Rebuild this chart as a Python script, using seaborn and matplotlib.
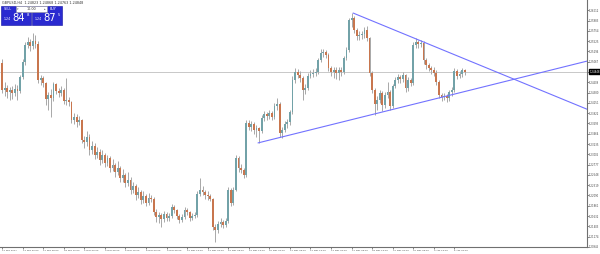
import matplotlib
matplotlib.use("Agg")
import matplotlib.pyplot as plt
from matplotlib.patches import Rectangle
import numpy as np
import pandas as pd
import seaborn as sns

# ---------------- data (prices in pips, /10000 -> price) ----------------
symbol_header = "GBPUSD,H4  1.24823 1.24868 1.24763 1.24848"

open_pips = [12504, 12444, 12448, 12439, 12444, 12437, 12446, 12442, 12473, 12506,
             12544, 12550, 12542, 12553, 12546, 12466, 12470, 12459, 12424, 12433,
             12426, 12457, 12442, 12437, 12444, 12419, 12422, 12417, 12377, 12384,
             12373, 12377, 12333, 12328, 12339, 12310, 12319, 12299, 12306, 12288,
             12299, 12281, 12292, 12270, 12277, 12261, 12270, 12248, 12255, 12237,
             12244, 12221, 12230, 12210, 12217, 12199, 12208, 12192, 12203, 12201,
             12172, 12161, 12166, 12157, 12168, 12159, 12163, 12183, 12177, 12163,
             12155, 12161, 12177, 12172, 12159, 12163, 12166, 12212, 12221, 12217,
             12210, 12208, 12201, 12139, 12132, 12146, 12150, 12143, 12152, 12221,
             12192, 12221, 12292, 12270, 12266, 12255, 12370, 12361, 12368, 12355,
             12359, 12353, 12381, 12390, 12386, 12393, 12384, 12408, 12413, 12348,
             12355, 12368, 12373, 12395, 12466, 12484, 12477, 12470, 12444, 12448,
             12475, 12479, 12482, 12484, 12510, 12526, 12528, 12522, 12493, 12484,
             12488, 12482, 12488, 12484, 12515, 12533, 12599, 12604, 12577, 12564,
             12566, 12568, 12577, 12559, 12482, 12444, 12413, 12422, 12437, 12410,
             12433, 12439, 12408, 12453, 12466, 12473, 12468, 12477, 12448, 12466,
             12459, 12544, 12550, 12546, 12548, 12510, 12499, 12493, 12488, 12482,
             12462, 12433, 12428, 12430, 12426, 12439, 12444, 12486, 12475, 12479,
             12488]

close_pips = [12444, 12448, 12439, 12444, 12437, 12446, 12442, 12473, 12506, 12544,
              12550, 12542, 12553, 12546, 12466, 12470, 12459, 12424, 12433, 12426,
              12457, 12442, 12437, 12444, 12419, 12422, 12417, 12377, 12384, 12373,
              12377, 12333, 12328, 12339, 12310, 12319, 12299, 12306, 12288, 12299,
              12281, 12292, 12270, 12277, 12261, 12270, 12248, 12255, 12237, 12244,
              12221, 12230, 12210, 12217, 12199, 12208, 12192, 12203, 12201, 12172,
              12161, 12166, 12157, 12168, 12159, 12163, 12183, 12177, 12163, 12155,
              12161, 12177, 12172, 12159, 12163, 12166, 12212, 12221, 12217, 12210,
              12208, 12201, 12139, 12132, 12146, 12150, 12143, 12152, 12221, 12192,
              12221, 12292, 12270, 12266, 12255, 12370, 12361, 12368, 12355, 12359,
              12353, 12381, 12390, 12386, 12393, 12384, 12408, 12413, 12348, 12355,
              12368, 12373, 12395, 12466, 12484, 12477, 12470, 12444, 12448, 12475,
              12479, 12482, 12484, 12510, 12526, 12528, 12522, 12493, 12484, 12488,
              12482, 12488, 12484, 12515, 12533, 12599, 12604, 12577, 12564, 12566,
              12568, 12577, 12559, 12482, 12444, 12413, 12422, 12437, 12410, 12433,
              12439, 12408, 12453, 12466, 12473, 12468, 12477, 12448, 12466, 12459,
              12544, 12550, 12546, 12548, 12510, 12499, 12493, 12488, 12482, 12462,
              12433, 12428, 12430, 12426, 12439, 12444, 12486, 12475, 12479, 12488,
              12484]

high_pips = [12512, 12462, 12455, 12450, 12452, 12458, 12455, 12478, 12512, 12550,
             12562, 12558, 12570, 12566, 12552, 12478, 12475, 12462, 12440, 12445,
             12462, 12460, 12448, 12452, 12448, 12470, 12428, 12420, 12392, 12390,
             12385, 12380, 12342, 12352, 12345, 12330, 12325, 12318, 12312, 12310,
             12304, 12300, 12296, 12290, 12282, 12285, 12275, 12268, 12260, 12262,
             12250, 12240, 12235, 12228, 12222, 12220, 12212, 12215, 12210, 12205,
             12178, 12172, 12170, 12175, 12172, 12170, 12190, 12188, 12180, 12168,
             12168, 12183, 12182, 12175, 12170, 12172, 12218, 12248, 12230, 12222,
             12218, 12212, 12204, 12145, 12152, 12158, 12155, 12158, 12228, 12225,
             12228, 12300, 12296, 12278, 12270, 12376, 12378, 12375, 12372, 12365,
             12362, 12388, 12398, 12395, 12400, 12396, 12415, 12425, 12416, 12362,
             12375, 12380, 12400, 12474, 12492, 12490, 12486, 12474, 12458, 12482,
             12488, 12490, 12492, 12516, 12534, 12536, 12533, 12525, 12498, 12496,
             12494, 12495, 12494, 12520, 12540, 12604, 12615, 12608, 12582, 12575,
             12576, 12585, 12586, 12562, 12486, 12448, 12430, 12444, 12442, 12440,
             12462, 12444, 12458, 12472, 12480, 12478, 12484, 12480, 12472, 12470,
             12550, 12559, 12556, 12555, 12552, 12515, 12504, 12498, 12494, 12488,
             12466, 12438, 12436, 12435, 12444, 12450, 12492, 12490, 12486, 12492,
             12490]

low_pips = [12436, 12430, 12425, 12422, 12424, 12430, 12422, 12438, 12468, 12500,
            12538, 12530, 12536, 12538, 12460, 12455, 12450, 12410, 12400, 12384,
            12420, 12435, 12428, 12430, 12412, 12410, 12408, 12370, 12368, 12362,
            12365, 12325, 12315, 12320, 12300, 12302, 12290, 12292, 12276, 12282,
            12272, 12275, 12262, 12264, 12250, 12255, 12240, 12240, 12228, 12230,
            12212, 12215, 12200, 12204, 12190, 12192, 12185, 12188, 12194, 12165,
            12150, 12148, 12140, 12150, 12152, 12152, 12158, 12170, 12156, 12148,
            12150, 12156, 12165, 12152, 12154, 12158, 12162, 12208, 12210, 12202,
            12200, 12196, 12132, 12106, 12125, 12140, 12136, 12138, 12148, 12185,
            12188, 12218, 12262, 12258, 12248, 12250, 12355, 12352, 12345, 12340,
            12326, 12348, 12375, 12378, 12380, 12376, 12380, 12400, 12340, 12338,
            12350, 12360, 12366, 12390, 12460, 12470, 12462, 12422, 12435, 12444,
            12470, 12472, 12475, 12480, 12505, 12518, 12515, 12486, 12474, 12470,
            12468, 12466, 12476, 12480, 12510, 12528, 12585, 12570, 12555, 12556,
            12558, 12560, 12552, 12475, 12436, 12388, 12400, 12415, 12398, 12404,
            12426, 12400, 12404, 12448, 12460, 12460, 12462, 12440, 12442, 12452,
            12455, 12538, 12538, 12540, 12502, 12490, 12486, 12480, 12476, 12455,
            12426, 12420, 12422, 12418, 12420, 12430, 12440, 12468, 12470, 12472,
            12478]

current_price = 1.24848

# trend lines: (bar index, price) anchors
upper_trend_bars = [136.6, 227.6]
upper_trend_prices = [1.26150, 1.24010]
lower_trend_bars = [99.6, 227.6]
lower_trend_prices = [1.23260, 1.25080]

y_tick_values = [1.20945, 1.21174, 1.21403, 1.21632, 1.21861, 1.22090, 1.22319,
                 1.22548, 1.22777, 1.23006, 1.23235, 1.23464, 1.23693, 1.23922,
                 1.24151, 1.24380, 1.24609, 1.24838, 1.25067, 1.25296, 1.25525,
                 1.25754, 1.25983, 1.26212]

x_tick_bars = list(range(0, 177, 8))
x_tick_labels = ["22 Feb 2017", "24 Feb 00:00", "27 Feb 08:00", "28 Feb 16:00",
                 "2 Mar 00:00", "3 Mar 08:00", "6 Mar 16:00", "8 Mar 00:00",
                 "9 Mar 08:00", "10 Mar 16:00", "14 Mar 00:00", "15 Mar 08:00",
                 "16 Mar 16:00", "20 Mar 00:00", "21 Mar 08:00", "22 Mar 16:00",
                 "24 Mar 00:00", "27 Mar 08:00", "28 Mar 16:00", "30 Mar 00:00",
                 "31 Mar 08:00", "3 Apr 16:00", "5 Apr 00:00"]

# ---------------- figure ----------------
sns.set_theme(style="white")
plt.rcParams["font.family"] = ["DejaVu Sans"]

W, H = 600, 254
fig = plt.figure(figsize=(W / 100, H / 100), dpi=100)
fig.patch.set_facecolor("white")
ax = fig.add_axes([0, 7 / H, 587 / W, 247 / H])
ax.set_facecolor("white")

df = pd.DataFrame({
    "bar": np.arange(len(close_pips)),
    "open": np.array(open_pips) / 10000.0,
    "close": np.array(close_pips) / 10000.0,
    "high": np.array(high_pips) / 10000.0,
    "low": np.array(low_pips) / 10000.0,
})
df["up"] = df["close"] >= df["open"]

up_col = "#72a2a8"
dn_col = "#c8764e"
wick_col = "#a8a8a8"

# current price line
ax.axhline(current_price, color="#c8c8c8", lw=0.7, zorder=1)

# wicks
ax.vlines(df["bar"], df["low"], df["high"], color=wick_col, lw=0.7, zorder=2)

# bodies
body_bottom = np.minimum(df["open"], df["close"])
body_h = np.maximum(np.abs(df["close"] - df["open"]), 0.00004)
colors = np.where(df["up"], up_col, dn_col)
ax.bar(df["bar"], body_h, bottom=body_bottom, width=0.72, color=colors,
       edgecolor="none", linewidth=0, zorder=3)

# trend lines via seaborn
tl = pd.DataFrame({
    "bar": upper_trend_bars + lower_trend_bars,
    "price": upper_trend_prices + lower_trend_prices,
    "line": ["upper", "upper", "lower", "lower"],
})
sns.lineplot(data=tl, x="bar", y="price", units="line", estimator=None,
             color="#7272ff", lw=0.8, ax=ax, zorder=4, legend=False)

ax.set_xlim(-0.8, 227.6)
ax.set_ylim(1.20944, 1.26440)
ax.set_xlabel("")
ax.set_ylabel("")

# spines
for s in ["left", "top"]:
    ax.spines[s].set_visible(False)
for s in ["right", "bottom"]:
    ax.spines[s].set_color("#707070")
    ax.spines[s].set_linewidth(0.8)

ax.yaxis.tick_right()
ax.set_yticks(y_tick_values)
ax.set_yticklabels([f"{v:.5f}" for v in y_tick_values])
ax.set_xticks(x_tick_bars)
ax.set_xticklabels(x_tick_labels, ha="left")
ax.tick_params(axis="y", which="both", right=True, length=1.2, width=0.5,
               pad=0.3, labelsize=1.8, colors="#555555", labelcolor="#444444")
ax.tick_params(axis="x", which="both", bottom=True, length=1.5, width=0.5,
               pad=0.5, labelsize=1.75, colors="#555555", labelcolor="#444444")

# current price box on the axis
ax.text(1.004, current_price, f"{current_price:.5f}", transform=ax.get_yaxis_transform(),
        ha="left", va="center", fontsize=1.8, color="white", zorder=10,
        bbox=dict(boxstyle="square,pad=0.3", fc="black", ec="black"), clip_on=False)

# ---------------- trading widget (top-left) ----------------
def fx(px):
    return px / W

def fy(py):
    return 1 - py / H

fig.text(fx(2), fy(2.5), symbol_header, fontsize=2.4, color="#333333", va="center", ha="left")

blue = "#2a2ad0"
for x0 in (1, 32):
    fig.patches.append(Rectangle((fx(x0), fy(24.5)), fx(30), 18.5 / H, transform=fig.transFigure,
                                 fc=blue, ec="#1010a0", lw=0.4, zorder=5))
# lot field
fig.patches.append(Rectangle((fx(16), fy(11.5)), fx(31), 5.5 / H, transform=fig.transFigure,
                             fc="white", ec="#999999", lw=0.4, zorder=6))
fig.text(fx(3.5), fy(8.8), "SELL", fontsize=2.4, color="white", va="center", ha="left", zorder=7)
fig.text(fx(50), fy(8.8), "BUY", fontsize=2.4, color="white", va="center", ha="left", zorder=7)
fig.text(fx(31.5), fy(8.8), "10.00", fontsize=2.4, color="#333333", va="center", ha="center", zorder=7)
fig.text(fx(18), fy(8.8), "\u25be", fontsize=2.2, color="#666666", va="center", ha="center", zorder=7)
fig.text(fx(45), fy(8.8), "\u25b4", fontsize=2.2, color="#666666", va="center", ha="center", zorder=7)

sell_price = ["1.24", "84", "8"]
buy_price = ["1.24", "87", "5"]
for x0, parts in ((1, sell_price), (32, buy_price)):
    fig.text(fx(x0 + 2.5), fy(19.5), parts[0], fontsize=2.3, color="white", va="center", ha="left", zorder=7)
    fig.text(fx(x0 + 11.5), fy(18.3), parts[1], fontsize=7.2, color="white", va="center", ha="left", zorder=7)
    fig.text(fx(x0 + 25.5), fy(14.8), parts[2], fontsize=2.8, color="white", va="center", ha="left", zorder=7)

fig.savefig("out.png", dpi=100, facecolor="white")
